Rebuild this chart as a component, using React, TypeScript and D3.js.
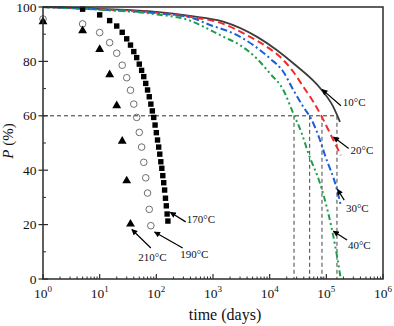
import React from "react";
import * as d3 from "d3";

// ---- data ----
const sq170T = [5, 10, 15, 20, 25, 30, 35, 40, 45, 50, 55, 60, 65, 70, 75, 80, 85, 90, 95, 100, 105, 110, 115, 120, 125, 130, 135, 140, 145, 150, 155, 160];
const sq170P = [99.2, 97.1, 95.0, 93.0, 90.7, 88.3, 86.0, 83.6, 81.4, 79.0, 76.7, 74.4, 71.9, 69.5, 67.0, 64.3, 61.8, 59.4, 56.6, 53.8, 51.1, 48.5, 45.9, 43.1, 40.7, 38.0, 35.4, 32.7, 29.7, 26.9, 23.9, 21.3];

const ci190T = [1, 5, 10, 15, 20, 25, 30, 35, 40, 45, 50, 55, 60, 65, 70, 75, 80];
const ci190P = [95.6, 93.8, 90.6, 86.9, 83.0, 78.6, 74.0, 69.4, 64.3, 59.4, 53.9, 48.5, 42.9, 37.2, 31.6, 25.6, 19.6];

const tr210T = [1, 5, 10, 15, 20, 25, 30, 35];
const tr210P = [94.6, 91.3, 84.4, 75.1, 63.7, 50.7, 36.1, 20.2];

const c10T = [1, 10, 100, 393, 1516, 5900, 13300, 26100, 82800, 132700, 174000];
const c10P = [100, 99.3, 98.2, 96.7, 94.6, 89.1, 84.2, 79.3, 69.5, 63.3, 57.8];

const c20T = [1, 10, 100, 393, 1516, 3930, 8860, 15200, 26100, 39200, 58800, 82800, 116000, 162600, 180000];
const c20P = [100, 99.2, 97.9, 96.4, 93.8, 89.7, 85.4, 81.7, 76.2, 70.7, 65.2, 59.7, 53.6, 47.4, 45.5];

const c30T = [1, 10, 100, 393, 885, 2280, 5140, 10100, 17400, 26100, 39200, 55100, 77200, 94700, 152000, 180000];
const c30P = [100, 99.1, 97.7, 96.2, 93.4, 90.3, 86.0, 81.1, 76.2, 69.5, 63.3, 58.5, 51.1, 45.5, 33.3, 27.0];

const c40T = [1, 10, 100, 393, 674, 1520, 2990, 5900, 10100, 17400, 26100, 36700, 48000, 77200, 107000, 142300, 179200];
const c40P = [100, 99.0, 97.3, 95.0, 92.8, 89.1, 86.0, 81.1, 75.6, 69.5, 60.9, 53.6, 46.3, 35.2, 24.6, 12.5, 0.3];

const refP = 60;
const refT = [26900, 50800, 83800, 154000];

const xExps = [0, 1, 2, 3, 4, 5, 6];
const yTicks = [0, 20, 40, 60, 80, 100];
const yMinor = [10, 30, 50, 70, 90];

const curves = [
  { t: c10T, p: c10P, color: "#3c3c3c", dash: "none", w: 1.8 },
  { t: c20T, p: c20P, color: "#ee2b2b", dash: "7,4", w: 2 },
  { t: c30T, p: c30P, color: "#1a5fd8", dash: "7,3,2,3", w: 2 },
  { t: c40T, p: c40P, color: "#1e9e4c", dash: "6,3,2,3,2,3", w: 2 },
];

// annotation: [label, tail t, tail p, tip t, tip p, text t, text p]
const notes: [string, number, number, number, number, number, number][] = [
  ["10°C", 181000, 63.7, 84000, 69.7, 195000, 63.5],
  ["20°C", 248000, 48.0, 134000, 52.2, 268000, 46.0],
  ["30°C", 207000, 29.0, 157000, 33.0, 222000, 24.6],
  ["40°C", 232000, 14.3, 133000, 17.6, 240000, 10.9],
  ["170°C", 330, 21.0, 176, 24.5, 345, 20.5],
  ["190°C", 292, 11.4, 93, 17.3, 264, 7.7],
  ["210°C", 80, 11.4, 37, 18.2, 48, 6.6],
];

export default function App() {
  const x = d3.scaleLog().domain([1, 1e6]).range([43, 383]);
  const y = d3.scaleLinear().domain([0, 100]).range([279, 7]);
  const line = d3
    .line<[number, number]>()
    .x((d) => x(d[0]))
    .y((d) => y(d[1]))
    .curve(d3.curveMonotoneX);

  const minorX: number[] = [];
  for (let e = 0; e < 6; e++) for (let k = 2; k <= 9; k++) minorX.push(k * Math.pow(10, e));

  const tri = d3.symbol().type(d3.symbolTriangle).size(34)();
  const font = "'Liberation Serif', 'Times New Roman', serif";
  const axisColor = "#2b2b2b";

  return (
    <svg
      width={394}
      height={326}
      style={{ position: "absolute", left: 0, top: 0, background: "#fff" }}
      fontFamily={font}
    >
      <defs>
        <marker id="ah" viewBox="0 0 10 10" refX="9" refY="5" markerWidth="7" markerHeight="6" orient="auto" markerUnits="userSpaceOnUse">
          <path d="M0,0 L10,5 L0,10 z" fill="#000" />
        </marker>
      </defs>
      <rect x={0} y={0} width={394} height={326} fill="#fff" />

      {/* reference dashed lines */}
      <line x1={x(1)} x2={x(refT[3])} y1={y(refP)} y2={y(refP)} stroke="#333" strokeWidth={1} strokeDasharray="4,3" />
      {refT.map((t, i) => (
        <line key={i} x1={x(t)} x2={x(t)} y1={y(refP)} y2={y(0)} stroke="#444" strokeWidth={1} strokeDasharray="4,3" />
      ))}

      {/* curves */}
      {curves.map((c, i) => (
        <path
          key={i}
          d={line(c.t.map((t, j) => [t, c.p[j]] as [number, number])) || ""}
          fill="none"
          stroke={c.color}
          strokeWidth={c.w}
          strokeDasharray={c.dash}
        />
      ))}

      {/* markers */}
      {ci190T.map((t, i) => (
        <circle key={"c" + i} cx={x(t)} cy={y(ci190P[i])} r={3.3} fill="none" stroke="#6e6e6e" strokeWidth={1} />
      ))}
      {tr210T.map((t, i) => (
        <path key={"t" + i} d={tri || ""} transform={`translate(${x(t)},${y(tr210P[i])})`} fill="#000" />
      ))}
      {sq170T.map((t, i) => (
        <rect key={"s" + i} x={x(t) - 2.7} y={y(sq170P[i]) - 2.7} width={5.4} height={5.4} fill="#000" />
      ))}

      {/* annotations */}
      {notes.map(([lab, t0, p0, t1, p1, tt, tp], i) => (
        <g key={"n" + i}>
          <line x1={x(t0)} y1={y(p0)} x2={x(t1)} y2={y(p1)} stroke="#000" strokeWidth={1.2} markerEnd="url(#ah)" />
          <text x={x(tt)} y={y(tp)} fontSize={11} fill="#111">{lab}</text>
        </g>
      ))}

      {/* frame */}
      <rect x={43} y={7} width={340} height={272} fill="none" stroke={axisColor} strokeWidth={1.5} />

      {/* x ticks */}
      {xExps.map((e) => (
        <g key={"xe" + e}>
          <line x1={x(Math.pow(10, e))} x2={x(Math.pow(10, e))} y1={279} y2={274} stroke={axisColor} strokeWidth={1.2} />
          <text x={x(Math.pow(10, e))} y={298} fontSize={13.5} textAnchor="middle" fill="#111">
            10<tspan fontSize={9} dy={-6}>{e}</tspan>
          </text>
        </g>
      ))}
      {minorX.map((t, i) => (
        <line key={"xm" + i} x1={x(t)} x2={x(t)} y1={279} y2={276.5} stroke={axisColor} strokeWidth={1} />
      ))}

      {/* y ticks */}
      {yTicks.map((v) => (
        <g key={"y" + v}>
          <line x1={38.5} x2={48} y1={y(v)} y2={y(v)} stroke={axisColor} strokeWidth={1.2} />
          <text x={36.5} y={y(v) + 4.5} fontSize={13.5} textAnchor="end" fill="#111">{v}</text>
        </g>
      ))}
      {yMinor.map((v) => (
        <line key={"ym" + v} x1={43} x2={46} y1={y(v)} y2={y(v)} stroke={axisColor} strokeWidth={1} />
      ))}

      {/* axis titles */}
      <text x={225} y={320} fontSize={16} textAnchor="middle" fill="#111">time (days)</text>
      <text transform="translate(13,141) rotate(-90)" fontSize={15} textAnchor="middle" fill="#111">
        <tspan fontStyle="italic">P</tspan> (%)
      </text>
    </svg>
  );
}
